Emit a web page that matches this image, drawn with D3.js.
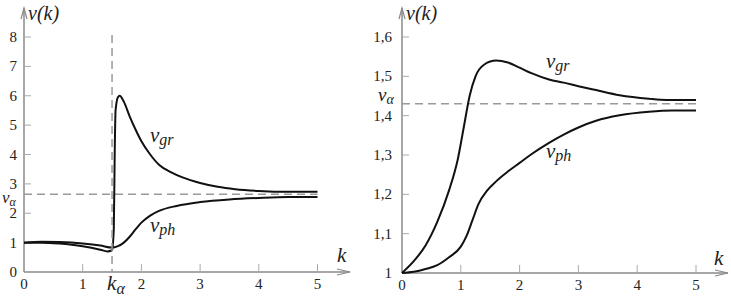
<!DOCTYPE html>
<html>
<head>
<meta charset="utf-8">
<script src="https://cdn.jsdelivr.net/npm/d3@7"></script>
<style>
  body { margin: 0; background: #fff; }
  svg { display: block; }
</style>
</head>
<body>
<div id="chart"></div>
<script>
// left panel
const kLeft = [0, 0.3, 0.6, 1.0, 1.3, 1.42, 1.5, 1.53, 1.545, 1.56, 1.6, 1.63, 1.7, 1.8, 1.9, 2.0, 2.15, 2.3, 2.5, 2.7, 3.0, 3.3, 3.6, 4.0, 4.5, 5.0];
const vgrLeft = [1.0, 1.0, 0.97, 0.88, 0.76, 0.7, 0.74, 1.5, 4.0, 5.5, 5.95, 6.0, 5.8, 5.3, 4.85, 4.45, 4.0, 3.65, 3.4, 3.22, 3.03, 2.9, 2.82, 2.76, 2.73, 2.73];
const kLeftPh = [0, 0.3, 0.6, 1.0, 1.3, 1.5, 1.6, 1.7, 1.8, 1.9, 2.0, 2.15, 2.3, 2.6, 3.0, 3.5, 4.0, 4.5, 5.0];
const vphLeft = [1.0, 1.03, 1.02, 0.97, 0.9, 0.83, 0.88, 1.0, 1.2, 1.45, 1.68, 1.92, 2.08, 2.25, 2.38, 2.47, 2.52, 2.55, 2.55];
const leftYTicks = [0, 1, 2, 3, 4, 5, 6, 7, 8];
const leftVAlpha = 2.65;
const leftKAlpha = 1.5;

// right panel
const kRightGr = [0, 0.2, 0.4, 0.6, 0.8, 0.95, 1.05, 1.15, 1.25, 1.4, 1.6, 1.8, 2.0, 2.2, 2.5, 2.75, 3.0, 3.3, 3.7, 4.2, 4.5, 5.0];
const vgrRight = [1.0, 1.03, 1.07, 1.13, 1.21, 1.29, 1.37, 1.45, 1.5, 1.53, 1.54, 1.535, 1.522, 1.508, 1.492, 1.484, 1.475, 1.465, 1.452, 1.443, 1.44, 1.44];
const kRightPh = [0, 0.2, 0.4, 0.6, 0.8, 1.0, 1.1, 1.2, 1.3, 1.45, 1.6, 1.8, 2.0, 2.2, 2.5, 2.75, 3.0, 3.3, 3.7, 4.2, 4.6, 5.0];
const vphRight = [1.0, 1.003, 1.01, 1.02, 1.04, 1.067, 1.095, 1.135, 1.175, 1.21, 1.233, 1.258, 1.28, 1.302, 1.331, 1.352, 1.37, 1.387, 1.401, 1.41, 1.413, 1.413];
const rightYTicks = [1, 1.1, 1.2, 1.3, 1.4, 1.5, 1.6];
const rightVAlpha = 1.43;

const xTicks = [0, 1, 2, 3, 4, 5];

const width = 731, height = 296;
const serif = "'Liberation Serif', 'Times New Roman', 'DejaVu Serif', serif";

const svg = d3.select("#chart").append("svg")
  .attr("width", width)
  .attr("height", height)
  .attr("font-family", serif);

const axisColor = "#8a8a8a";
const dashColor = "#9a9a9a";

function drawPanel(opt) {
  let x = d3.scaleLinear().domain([0, 5]).range(opt.xRange);
  let y = d3.scaleLinear().domain(opt.yDomain).range(opt.yRange);
  let g = svg.append("g");
  let x0 = opt.xRange[0], y0 = opt.yRange[0];

  // axes lines
  g.append("line").attr("x1", x0).attr("x2", x0).attr("y1", y0).attr("y2", opt.yTop)
    .attr("stroke", axisColor).attr("stroke-width", 1.5);
  g.append("line").attr("x1", x0).attr("x2", opt.xEnd).attr("y1", y0).attr("y2", y0)
    .attr("stroke", axisColor).attr("stroke-width", 1.5);
  // open arrow heads
  g.append("path").attr("d", `M${x0 - 3},${opt.yTop + 11}L${x0},${opt.yTop}L${x0 + 3},${opt.yTop + 11}`)
    .attr("fill", "none").attr("stroke", axisColor).attr("stroke-width", 1.2);
  g.append("path").attr("d", `M${opt.xEnd - 13},${y0 - 3}L${opt.xEnd},${y0}L${opt.xEnd - 13},${y0 + 3}`)
    .attr("fill", "none").attr("stroke", axisColor).attr("stroke-width", 1.2);

  // y ticks
  g.selectAll(".yt").data(opt.yTicks.filter(d => d != opt.yDomain[0]))
    .enter().append("line")
    .attr("x1", x0).attr("x2", x0 + 7)
    .attr("y1", d => y(d)).attr("y2", d => y(d))
    .attr("stroke", "#aaa").attr("stroke-width", 1);
  g.selectAll(".yl").data(opt.yTicks).enter().append("text")
    .attr("x", x0 - opt.yLabelGap)
    .attr("y", d => y(d) + 5)
    .attr("text-anchor", "end")
    .attr("font-size", 15)
    .attr("fill", "#222")
    .text(opt.yFormat);

  // x ticks
  g.selectAll(".xt").data(xTicks.filter(d => d > 0)).enter().append("line")
    .attr("x1", d => x(d)).attr("x2", d => x(d))
    .attr("y1", y0).attr("y2", y0 - 8)
    .attr("stroke", "#aaa").attr("stroke-width", 1);
  g.selectAll(".xl").data(xTicks).enter().append("text")
    .attr("x", d => x(d))
    .attr("y", y0 + 17)
    .attr("text-anchor", "middle")
    .attr("font-size", 15)
    .attr("fill", "#222")
    .text(d => d);

  // dashed v_alpha
  g.append("line")
    .attr("x1", x0).attr("x2", x(5))
    .attr("y1", y(opt.vAlpha)).attr("y2", y(opt.vAlpha))
    .attr("stroke", dashColor).attr("stroke-width", 1.5)
    .attr("stroke-dasharray", "8,5");

  let line = d3.line()
    .x(d => x(d[0]))
    .y(d => y(d[1]))
    .curve(d3.curveMonotoneX);

  g.append("path").datum(d3.zip(opt.kGr, opt.vGr))
    .attr("d", line).attr("fill", "none").attr("stroke", "#111").attr("stroke-width", 2);
  g.append("path").datum(d3.zip(opt.kPh, opt.vPh))
    .attr("d", line).attr("fill", "none").attr("stroke", "#111").attr("stroke-width", 2);

  // labels
  g.append("text").attr("x", x0 + 4).attr("y", 20)
    .attr("font-size", 20).attr("font-style", "italic").attr("fill", "#222")
    .text("v(k)");

  g.append("text").attr("x", opt.kPos[0]).attr("y", opt.kPos[1])
    .attr("font-size", 21).attr("font-style", "italic").attr("fill", "#222").text("k");

  sub(g, opt.vaPos, "v", "α", opt.vaSize);
  sub(g, opt.grPos, "v", "gr", 21);
  sub(g, opt.phPos, "v", "ph", 21);

  return {g, x, y};
}

function sub(g, pos, main, s, size) {
  let t = g.append("text").attr("x", pos[0]).attr("y", pos[1])
    .attr("font-size", size).attr("font-style", "italic").attr("fill", "#222");
  t.append("tspan").text(main);
  t.append("tspan").attr("dy", 3).attr("font-size", size - 5).text(s);
}

let left = drawPanel({
  xRange: [24, 317.5], yDomain: [0, 8], yRange: [272, 37], yTop: 8, xEnd: 350,
  yTicks: leftYTicks, yLabelGap: 7, yFormat: d => d,
  vAlpha: leftVAlpha, vaSize: 17,
  kGr: kLeft, vGr: vgrLeft, kPh: kLeftPh, vPh: vphLeft,
  kPos: [337, 262], vaPos: [2, 203], grPos: [150, 142], phPos: [150, 232]
});

// k_alpha vertical dashed line
left.g.append("line")
  .attr("x1", left.x(leftKAlpha)).attr("x2", left.x(leftKAlpha))
  .attr("y1", 35).attr("y2", 272)
  .attr("stroke", dashColor).attr("stroke-width", 1.5)
  .attr("stroke-dasharray", "8,5");
let ka = left.g.append("text").attr("x", left.x(leftKAlpha) - 5).attr("y", 290)
  .attr("font-size", 21).attr("font-style", "italic").attr("fill", "#222");
ka.append("tspan").text("k");
ka.append("tspan").attr("dy", 4).attr("font-size", 16).text("α");

drawPanel({
  xRange: [402, 696], yDomain: [1, 1.6], yRange: [273, 37], yTop: 8, xEnd: 728,
  yTicks: rightYTicks, yLabelGap: 10,
  yFormat: d => d == 1 ? "1" : d3.format(".1f")(d).replace(".", ","),
  vAlpha: rightVAlpha, vaSize: 19,
  kGr: kRightGr, vGr: vgrRight, kPh: kRightPh, vPh: vphRight,
  kPos: [714, 265], vaPos: [378, 101], grPos: [546, 68], phPos: [546, 158]
});
</script>
</body>
</html>
